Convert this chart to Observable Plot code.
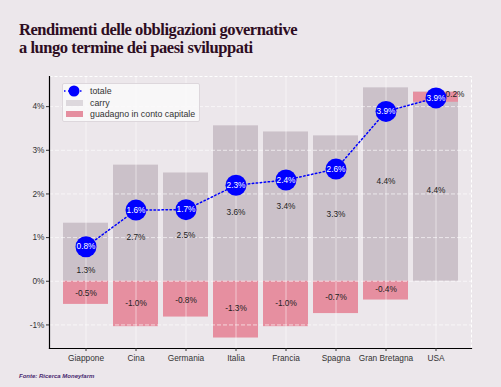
<!DOCTYPE html>
<html><head><meta charset="utf-8">
<script src="https://cdn.jsdelivr.net/npm/d3@7"></script>
<script src="https://cdn.jsdelivr.net/npm/@observablehq/plot@0.6"></script>
<style>
body{margin:0;background:#ece7eb;}
#wrap{position:relative;width:501px;height:387px;background:#ece7eb;overflow:hidden;font-family:"Liberation Sans",Arial,sans-serif;}
.tl{position:absolute;left:19px;font-family:"Liberation Serif",serif;font-weight:bold;font-size:16.5px;line-height:17px;height:17px;color:#2e0d22;letter-spacing:-0.45px;white-space:nowrap;}
#src{position:absolute;left:19px;top:373px;font-family:"Liberation Sans",sans-serif;font-style:italic;font-weight:bold;font-size:6px;color:#4a2a70;white-space:nowrap;}
#legend{position:absolute;left:62px;top:83px;width:136px;height:37px;background:rgba(250,249,250,0.85);border:1px solid #ddd7dc;border-radius:2px;font-size:8.8px;color:#333;}
.row{position:absolute;left:0;height:12px;display:flex;align-items:center;white-space:nowrap;}
.sw{width:17px;height:6px;margin-left:3px;margin-right:7px;}
#plot{position:absolute;left:0;top:0;}
</style></head>
<body><div id="wrap">
<div class="tl" style="top:21px">Rendimenti delle obbligazioni governative</div>
<div class="tl" style="top:39px">a lungo termine dei paesi sviluppati</div>
<div id="plot"></div>
<div id="legend">
 <div class="row" style="top:1px"><svg width="27" height="12"><line x1="1" y1="6" x2="20" y2="6" stroke="#0000ff" stroke-width="1.5" stroke-dasharray="1.5,2.5"/><circle cx="11" cy="6" r="5.5" fill="#0000ff"/></svg><span>totale</span></div>
 <div class="row" style="top:13px"><div class="sw" style="background:#ddd8dd"></div><span>carry</span></div>
 <div class="row" style="top:24px"><div class="sw" style="background:#e58fa0"></div><span>guadagno in conto capitale</span></div>
</div>
<div id="src">Fonte: Ricerca Moneyfarm</div>
</div>
<script>
const countries = ["Giappone","Cina","Germania","Italia","Francia","Spagna","Gran Bretagna","USA"];
const carry = [1.33,2.66,2.48,3.56,3.42,3.33,4.43,4.33];
const carryLabels = ["1.3%","2.7%","2.5%","3.6%","3.4%","3.3%","4.4%","4.4%"];
const carryLabelY = [0.24,1.0,1.06,1.59,1.72,1.54,2.3,2.09];
const gainBase = [0,0,0,0,0,0,0,4.1];
const gain = [-0.53,-1.04,-0.82,-1.3,-1.04,-0.74,-0.43,0.23];
const gainLabels = ["-0.5%","-1.0%","-0.8%","-1.3%","-1.0%","-0.7%","-0.4%","0.2%"];
const gainLabelY = [-0.27,-0.5,-0.43,-0.63,-0.51,-0.37,-0.19,4.28];
const totals = [0.79,1.63,1.64,2.2,2.32,2.57,3.89,4.2];
const totalLabels = ["0.8%","1.6%","1.7%","2.3%","2.4%","2.6%","3.9%","3.9%"];
const yTicks = [-1,0,1,2,3,4];

const data = countries.map((c,i)=>({c, carry:carry[i], cl:carryLabels[i], cly:carryLabelY[i],
  g0:gainBase[i], g1:gainBase[i]+gain[i], gl:gainLabels[i], gly:gainLabelY[i], t:totals[i], tl:totalLabels[i], pos: gain[i]>0}));

const F = "Liberation Sans, Arial, sans-serif";
const chart = Plot.plot({
  width:501, height:387,
  marginLeft:49, marginRight:30, marginTop:76, marginBottom:39,
  style:{background:"transparent", fontFamily:F, fontSize:"8.3px", color:"#333"},
  x:{domain:countries, paddingInner:0.1, paddingOuter:0.245, label:null},
  y:{domain:[-1.54,4.69], label:null},
  marks:[
    Plot.barY(data,{x:"c", y1:0, y2:"carry", fill:"#cbc1c9"}),
    Plot.barY(data,{x:"c", y1:"g0", y2:"g1", fill:"#e68fa0"}),
    Plot.ruleY(yTicks,{stroke:"#ffffff", strokeOpacity:0.8, strokeDasharray:"4,2", strokeWidth:0.8}),
    Plot.ruleX(countries,{stroke:"#ffffff", strokeOpacity:0.5, strokeWidth:1}),
    Plot.frame({stroke:"#ffffff", strokeDasharray:"3,2", strokeWidth:1}),
    Plot.frame({anchor:"left", stroke:"#000", strokeWidth:1.2}),
    Plot.frame({anchor:"bottom", stroke:"#000", strokeWidth:1.2}),
    Plot.axisY({ticks:yTicks, tickFormat:d=>d+"%", tickSize:3, tickPadding:2, fill:"#333", fontSize:8.3}),
    Plot.axisX({tickSize:3, tickPadding:4, fill:"#333", fontSize:8.3}),
    Plot.text(data,{x:"c", y:"cly", text:"cl", fill:"#222", fontSize:8.3}),
    Plot.text(data.filter(d=>!d.pos),{x:"c", y:"gly", text:"gl", fill:"#222", fontSize:8.3}),
    Plot.text(data.filter(d=>d.pos),{x:"c", y:"gly", text:"gl", fill:"#222", fontSize:8.3, dx:19}),
    Plot.line(data,{x:"c", y:"t", stroke:"#0000ff", strokeWidth:1.5, strokeDasharray:"1.5,2.5"}),
    Plot.dot(data,{x:"c", y:"t", r:10.5, fill:"#0000ff", stroke:"none"}),
    Plot.text(data,{x:"c", y:"t", text:"tl", fill:"#ffffff", fontSize:8.3})
  ]
});
document.getElementById("plot").appendChild(chart);
</script>
</body></html>
